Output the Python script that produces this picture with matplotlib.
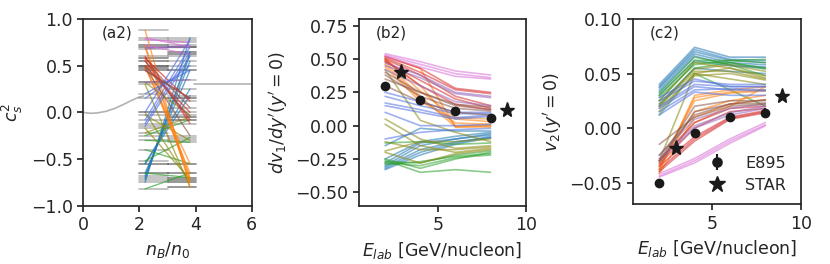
import numpy as np
import matplotlib
matplotlib.use('Agg')
from matplotlib import pyplot as plt
import seaborn as sns

sns.set_theme(style='ticks')
plt.rcParams['font.family'] = ['DejaVu Sans']

# beam energies of the model curves and data points
E_model = [2, 4, 6, 8]
E_e895 = [2, 4, 6, 8]
E_star = [2.92, 8.92]

v1_e895 = [0.30, 0.19, 0.11, 0.06]
v1_star = [0.40, 0.12]
v2_e895 = [-0.050, -0.005, 0.010, 0.014]
v2_e895_err = [0.002, 0.003, 0.003, 0.004]
v2_star = [-0.018, 0.029]

# soft part of the EoS below 2 n0 and stiff tail above 4 n0
nb_low = [0.0, 0.15, 0.3, 0.5, 0.8, 1.1, 1.4, 1.7, 2.0, 2.15]
cs2_low = [0.0, -0.008, -0.01, -0.006, 0.01, 0.04, 0.08, 0.125, 0.165, 0.175]
nb_high = [3.95, 6.0]
cs2_high = [0.3, 0.3]

blue, orange, green = '#1f77b4', '#ff7f0e', '#2ca02c'
red, purple, brown = '#d62728', '#9467bd', '#8c564b'
orchid, lav, olive = '#d86fd6', '#4f6fe0', '#8a8a10'

eos_color = [blue] * 7 + [green] * 6 + [olive] * 6 + [orange] * 6 + [red] * 5 \
    + [purple] * 3 + [orchid] * 3 + [lav] * 6 + [brown] * 4

cs2_bin1 = [-0.75, -0.72, -0.70, -0.68, -0.65, -0.55, -0.55,
            -0.82, -0.30, -0.40, -0.52, -0.65, -0.25,
            0.30, 0.00, -0.03, -0.17, -0.22, 0.32,
            0.88, 0.70, 0.58, 0.50, 0.48, 0.72,
            0.55, 0.50, 0.58, 0.45, 0.60,
            0.70, 0.68, 0.32,
            0.78, 0.80, 0.72,
            -0.15, -0.08, 0.00, 0.15, -0.12, 0.20,
            0.45, 0.50, 0.55, 0.48]
cs2_bin2 = [0.80, 0.65, 0.62, 0.55, 0.45, 0.25, 0.18,
            -0.65, -0.32, -0.55, -0.27, -0.70, -0.08,
            -0.80, -0.75, -0.30, -0.72, -0.05, -0.03,
            -0.80, -0.75, -0.72, -0.65, -0.55, -0.70,
            -0.08, 0.00, 0.12, 0.15, -0.12,
            0.70, 0.72, 0.35,
            0.75, 0.70, 0.62,
            0.60, 0.70, 0.78, 0.50, 0.65, 0.45,
            0.15, -0.05, 0.05, -0.25]

v1_model = [
    [-0.33, -0.22, -0.14, -0.09], [-0.32, -0.20, -0.13, -0.08], [-0.31, -0.18, -0.12, -0.09],
    [-0.30, -0.15, -0.10, -0.07], [-0.28, -0.13, -0.10, -0.06], [-0.15, -0.02, -0.04, -0.04],
    [-0.25, -0.12, -0.08, -0.05],
    [-0.26, -0.35, -0.33, -0.35], [-0.25, -0.32, -0.25, -0.20], [-0.28, -0.30, -0.24, -0.22],
    [-0.27, -0.28, -0.22, -0.19], [-0.29, -0.27, -0.23, -0.21], [-0.13, -0.12, -0.14, -0.13],
    [0.05, -0.10, -0.17, -0.15], [0.01, -0.15, -0.20, -0.17], [-0.12, -0.18, -0.18, -0.16],
    [-0.20, -0.28, -0.21, -0.18], [-0.19, -0.12, -0.12, -0.10], [0.42, 0.04, -0.05, -0.12],
    [0.52, 0.43, -0.01, -0.01], [0.50, 0.30, 0.00, 0.00], [0.48, 0.22, -0.01, 0.00],
    [0.46, 0.20, 0.02, 0.01], [0.44, 0.18, 0.05, 0.03], [0.50, 0.26, 0.06, 0.05],
    [0.52, 0.43, 0.28, 0.25], [0.51, 0.40, 0.27, 0.24], [0.50, 0.38, 0.22, 0.15],
    [0.48, 0.34, 0.20, 0.13], [0.49, 0.30, 0.16, 0.12],
    [0.47, 0.38, 0.25, 0.22], [0.45, 0.36, 0.24, 0.21], [0.42, 0.30, 0.18, 0.15],
    [0.54, 0.48, 0.41, 0.38], [0.53, 0.46, 0.39, 0.36], [0.52, 0.44, 0.37, 0.35],
    [0.25, 0.18, 0.10, 0.10], [0.22, 0.15, 0.09, 0.09], [0.17, 0.12, 0.06, 0.08],
    [0.15, 0.10, 0.05, 0.07], [-0.10, -0.05, -0.03, -0.02], [0.10, 0.00, 0.00, 0.01],
    [0.40, 0.25, 0.15, 0.12], [0.38, 0.22, 0.13, 0.11], [0.35, 0.25, 0.16, 0.14],
    [0.30, 0.18, 0.10, 0.08],
]

v2_model = [
    [0.040, 0.074, 0.065, 0.065], [0.038, 0.072, 0.063, 0.062], [0.037, 0.070, 0.062, 0.060],
    [0.035, 0.068, 0.060, 0.058], [0.033, 0.066, 0.058, 0.056], [0.022, 0.055, 0.052, 0.050],
    [0.030, 0.062, 0.057, 0.055],
    [0.012, 0.050, 0.035, 0.020], [0.025, 0.060, 0.060, 0.055], [0.028, 0.058, 0.062, 0.060],
    [0.030, 0.062, 0.062, 0.063], [0.020, 0.055, 0.060, 0.054], [0.032, 0.065, 0.058, 0.048],
    [0.015, 0.050, 0.055, 0.046], [0.020, 0.052, 0.052, 0.045], [0.025, 0.060, 0.055, 0.048],
    [0.018, 0.048, 0.050, 0.044], [0.022, 0.054, 0.058, 0.052], [-0.030, 0.050, 0.045, 0.040],
    [-0.040, 0.030, 0.035, 0.038], [-0.038, 0.028, 0.033, 0.035], [-0.035, 0.025, 0.032, 0.034],
    [-0.036, 0.015, 0.025, 0.030], [-0.030, 0.005, 0.020, 0.038], [-0.042, 0.010, 0.022, 0.026],
    [-0.040, -0.012, 0.008, 0.014], [-0.038, -0.010, 0.009, 0.015], [-0.035, -0.008, 0.010, 0.016],
    [-0.033, 0.000, 0.015, 0.018], [-0.030, 0.005, 0.018, 0.020],
    [-0.030, 0.000, 0.012, 0.018], [-0.028, 0.002, 0.014, 0.020], [-0.025, 0.008, 0.018, 0.022],
    [-0.042, -0.028, -0.010, 0.005], [-0.044, -0.030, -0.012, 0.003], [-0.045, -0.032, -0.014, 0.002],
    [0.028, 0.045, 0.038, 0.038], [0.025, 0.043, 0.040, 0.040], [0.020, 0.040, 0.038, 0.038],
    [0.015, 0.035, 0.036, 0.035], [0.012, 0.033, 0.030, 0.030], [0.018, 0.038, 0.035, 0.034],
    [-0.030, 0.020, 0.025, 0.025], [-0.032, 0.015, 0.022, 0.023], [-0.015, 0.010, 0.020, 0.022],
    [-0.025, 0.012, 0.022, 0.026],
]

fig = plt.figure(figsize=(8.3, 2.64), dpi=100)
ax1 = fig.add_axes([0.1004, 0.221, 0.2029, 0.707])
ax2 = fig.add_axes([0.4322, 0.221, 0.2012, 0.707])
ax3 = fig.add_axes([0.7623, 0.226, 0.2024, 0.702])

fs_tick = 12.5
fs_lab = 12.5

# (a2) speed of sound
ax1.plot(nb_low, cs2_low, color='grey', alpha=0.6, lw=1.2)
ax1.plot(nb_high, cs2_high, color='grey', alpha=0.6, lw=1.2)
for c, y1, y2 in zip(eos_color, cs2_bin1, cs2_bin2):
    ax1.plot([2, 3], [y1, y1], color='k', alpha=0.3, lw=1.2)
    ax1.plot([3, 4], [y2, y2], color='k', alpha=0.3, lw=1.2)
for c, y1, y2 in zip(eos_color, cs2_bin1, cs2_bin2):
    ax1.plot([2.2, 3.8], [y1, y2], color=c, alpha=0.65, lw=1.0)
ax1.set_xlim(0, 6)
ax1.set_ylim(-1, 1)
ax1.set_xticks([0, 2, 4, 6])
ax1.set_yticks([-1, -0.5, 0, 0.5, 1])
ax1.set_xlabel(r'$n_B/n_0$', fontsize=fs_lab)
ax1.set_ylabel(r'$c_s^2$', fontsize=fs_lab)
ax1.text(0.11, 0.9, '(a2)', transform=ax1.transAxes, fontsize=11)

# (b2) directed flow slope
for c, v in zip(eos_color, v1_model):
    ax2.plot(E_model, v, color=c, alpha=0.55, lw=1.2)
ax2.plot(E_e895, v1_e895, 'o', color='k', ms=6)
ax2.plot(E_star, v1_star, '*', color='k', ms=11)
ax2.set_xlim(0.5, 10)
ax2.set_ylim(-0.6, 0.8)
ax2.set_xticks([5, 10])
ax2.set_yticks([-0.5, -0.25, 0, 0.25, 0.5, 0.75])
ax2.set_xlabel(r'$E_{lab}$ [GeV/nucleon]', fontsize=fs_lab)
ax2.set_ylabel(r"$dv_1/dy'(y'=0)$", fontsize=fs_lab)
ax2.text(0.1, 0.9, '(b2)', transform=ax2.transAxes, fontsize=11)

# (c2) elliptic flow
for c, v in zip(eos_color, v2_model):
    ax3.plot(E_model, v, color=c, alpha=0.55, lw=1.2)
h1 = ax3.errorbar(E_e895, v2_e895, yerr=v2_e895_err, fmt='o', color='k', ms=6, label='E895')
h2, = ax3.plot(E_star, v2_star, '*', color='k', ms=11, linestyle='none', label='STAR')
ax3.set_xlim(0.5, 10)
ax3.set_ylim(-0.07, 0.10)
ax3.set_xticks([5, 10])
ax3.set_yticks([-0.05, 0, 0.05, 0.10])
ax3.set_xlabel(r'$E_{lab}$ [GeV/nucleon]', fontsize=fs_lab)
ax3.set_ylabel(r"$v_2(y'=0)$", fontsize=fs_lab)
ax3.text(0.1, 0.9, '(c2)', transform=ax3.transAxes, fontsize=11)
ax3.legend([h1, h2], ['E895', 'STAR'], loc='lower right', frameon=False, fontsize=11.5,
           bbox_to_anchor=(1.0, -0.015), markerscale=1.1, labelspacing=0.45)

for ax in (ax1, ax2, ax3):
    ax.tick_params(labelsize=fs_tick, length=4)

fig.savefig('out.png', dpi=100)
